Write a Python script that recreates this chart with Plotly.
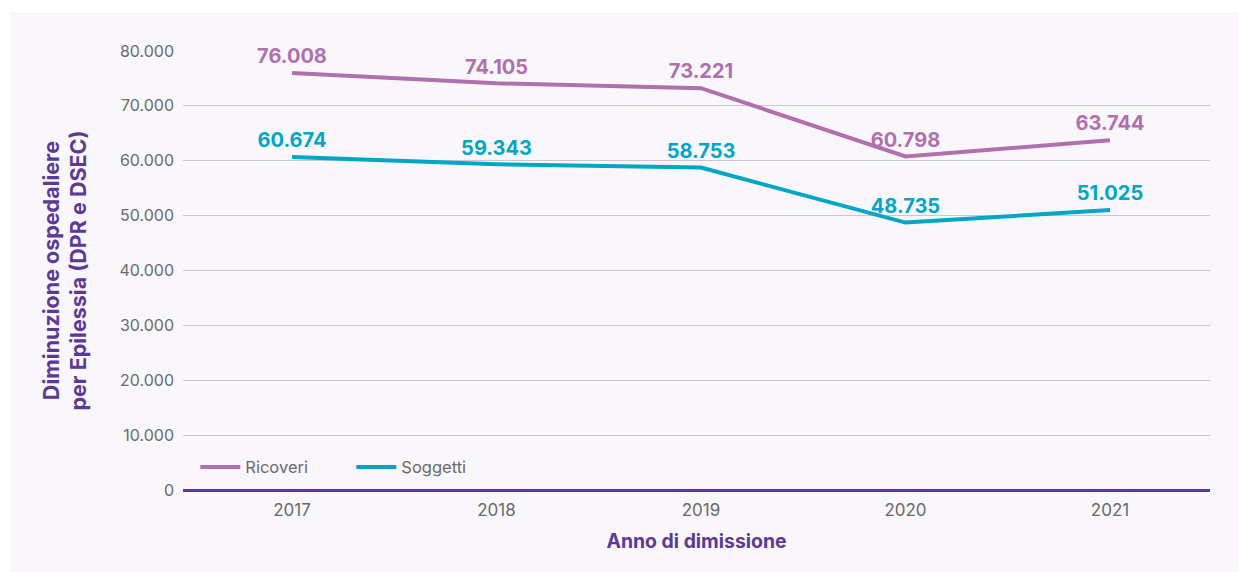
import plotly.graph_objects as go

years = ["2017", "2018", "2019", "2020", "2021"]
ricoveri = [76008, 74105, 73221, 60798, 63744]
soggetti = [60674, 59343, 58753, 48735, 51025]
y_ticks = [0, 10000, 20000, 30000, 40000, 50000, 60000, 70000, 80000]

def fmt(v):
    return f"{v:,}".replace(",", ".")

PURPLE = "#b06fad"
CYAN = "#00a6c6"
DARK = "#5b3a96"
FONT = "Inter"
GREY = "#6a6a6a"

fig = go.Figure()
for name, vals, col in [("Ricoveri", ricoveri, PURPLE), ("Soggetti", soggetti, CYAN)]:
    fig.add_trace(go.Scatter(
        x=years, y=vals, name=name, mode="lines",
        line=dict(color=col, width=4),
    ))
for name, vals, col in [("Ricoveri", ricoveri, PURPLE), ("Soggetti", soggetti, CYAN)]:
    fig.add_trace(go.Scatter(
        x=years, y=vals, name=name, mode="markers+text", showlegend=False,
        marker=dict(size=6, opacity=0, color=col),
        text=[fmt(v) for v in vals], textposition="top center",
        texttemplate="<b>%{text}</b>", cliponaxis=False,
        textfont=dict(color=col, size=20, family=FONT),
        hoverinfo="skip",
    ))

W, H = 1239, 572
L, R, T, B = 183, 29, 51, 82
pw, ph = W - L - R, H - T - B

fig.add_shape(type="rect", xref="paper", yref="paper", layer="below",
              x0=(10 - L) / pw, x1=(W - L) / pw + 0.01,
              y0=-(B + 5) / ph, y1=(H - B - 12) / ph,
              fillcolor="#f9f7fb", line=dict(width=0))

fig.update_layout(
    width=W, height=H,
    margin=dict(l=L, r=R, t=T, b=B),
    paper_bgcolor="white", plot_bgcolor="rgba(0,0,0,0)",
    separators=",.",
    font=dict(family=FONT, color=GREY, size=16),
    showlegend=True,
    legend=dict(orientation="h", x=0.012, xanchor="left", y=0.052, yanchor="middle",
                bgcolor="rgba(0,0,0,0)", font=dict(size=16.5, color=GREY, family=FONT),
                entrywidth=101, itemwidth=40),
    xaxis=dict(
        type="category", range=[-0.533, 4.489],
        showgrid=False, showline=False, zeroline=False,
        ticks="", ticklabelstandoff=8,
        tickfont=dict(size=17, color=GREY, family=FONT),
        title=dict(text="<b>Anno di dimissione</b>", font=dict(size=19.4, color=DARK), standoff=15),
    ),
    yaxis=dict(
        range=[0, 80000], tickvals=y_ticks, tickformat=",d",
        showgrid=True, gridcolor="#c8c8c8", gridwidth=1,
        zeroline=True, zerolinecolor=DARK, zerolinewidth=3,
        showline=False, ticks="", ticklabelstandoff=8,
        tickfont=dict(size=16, color=GREY, family=FONT),
        title=dict(text="<b>Diminuzione ospedaliere<br>per Epilessia (DPR e DSEC)</b>",
                   font=dict(size=21.5, color=DARK), standoff=26),
    ),
)

fig.write_html("out.html", config={"displayModeBar": False},
               post_script="document.body.style.margin='0px';")
